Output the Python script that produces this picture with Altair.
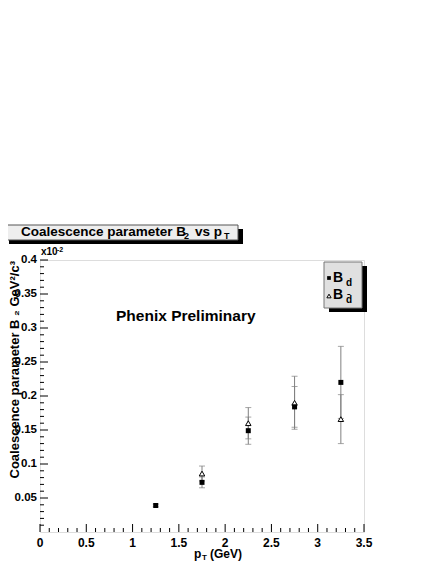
import altair as alt
import pandas as pd

# ---------------- data ----------------
bd_x = [1.25, 1.75, 2.25, 2.75, 3.25]
bd_val = [0.039, 0.073, 0.149, 0.184, 0.220]
bd_err = [0.002, 0.008, 0.020, 0.030, 0.053]

bdbar_x = [1.75, 2.25, 2.75, 3.25]
bdbar_val = [0.086, 0.160, 0.190, 0.166]
bdbar_err = [0.011, 0.023, 0.039, 0.036]

x_major = [0, 0.5, 1, 1.5, 2, 2.5, 3, 3.5]
x_minor = [round(i * 0.1, 2) for i in range(36) if i % 5 != 0]
y_major = [0.05, 0.1, 0.15, 0.2, 0.25, 0.3, 0.35, 0.4]
y_minor = [round(i * 0.01, 3) for i in range(1, 40) if i % 5 != 0]

W, H = 324, 272
FONT = "Liberation Sans"

bd = pd.DataFrame({"x": bd_x, "y": bd_val,
                   "lo": [v - e for v, e in zip(bd_val, bd_err)],
                   "hi": [v + e for v, e in zip(bd_val, bd_err)]})
bdbar = pd.DataFrame({"x": bdbar_x, "y": bdbar_val,
                      "lo": [v - e for v, e in zip(bdbar_val, bdbar_err)],
                      "hi": [v + e for v, e in zip(bdbar_val, bdbar_err)]})

xs = alt.Scale(domain=[0, 3.5], nice=False, zero=False)
ys = alt.Scale(domain=[0, 0.4], nice=False, zero=False)

dummy = pd.DataFrame({"a": [0]})


def X(f):
    return alt.X(f, scale=xs, axis=None)


def Y(f):
    return alt.Y(f, scale=ys, axis=None)


def text(t, x, y, size, align="left", baseline="middle", angle=0):
    return alt.Chart(dummy).mark_text(
        text=t, align=align, baseline=baseline, fontSize=size, fontWeight="bold",
        font=FONT, color="black", angle=angle
    ).encode(x=alt.value(x), y=alt.value(y))


def box(x0, x1, y0, y1, fill, stroke=None):
    kw = dict(fill=fill)
    if stroke:
        kw.update(stroke=stroke, strokeWidth=1)
    return alt.Chart(dummy).mark_rect(**kw).encode(
        x=alt.value(x0), x2=alt.value(x1), y=alt.value(y0), y2=alt.value(y1))


def errlayers(df):
    base = alt.Chart(df)
    bar = base.mark_rule(color="#808080", strokeWidth=1).encode(
        x=X("x:Q"), y=Y("lo:Q"), y2="hi:Q")
    cap_lo = base.mark_tick(orient="horizontal", size=6, thickness=1, color="#808080").encode(
        x=X("x:Q"), y=Y("lo:Q"))
    cap_hi = base.mark_tick(orient="horizontal", size=6, thickness=1, color="#808080").encode(
        x=X("x:Q"), y=Y("hi:Q"))
    return [bar, cap_lo, cap_hi]


# ticks drawn inward, ROOT style
xt_major = alt.Chart(pd.DataFrame({"x": x_major})).mark_rule(color="black").encode(
    x=X("x:Q"), y=alt.value(H), y2=alt.value(H - 8))
xt_minor = alt.Chart(pd.DataFrame({"x": x_minor})).mark_rule(color="black").encode(
    x=X("x:Q"), y=alt.value(H), y2=alt.value(H - 4))
yt_major = alt.Chart(pd.DataFrame({"y": y_major})).mark_rule(color="black").encode(
    y=Y("y:Q"), x=alt.value(0), x2=alt.value(8))
yt_minor = alt.Chart(pd.DataFrame({"y": y_minor})).mark_rule(color="black").encode(
    y=Y("y:Q"), x=alt.value(0), x2=alt.value(4))

# tick labels
x_labels = alt.Chart(pd.DataFrame({"x": x_major})).mark_text(
    align="center", baseline="middle", fontSize=12, fontWeight="bold", font=FONT, color="black"
).encode(x=X("x:Q"), y=alt.value(H + 11), text=alt.Text("x:Q", format="~g"))
y_labels = alt.Chart(pd.DataFrame({"y": y_major})).mark_text(
    align="right", baseline="middle", fontSize=11.5, fontWeight="bold", font=FONT, color="black"
).encode(y=Y("y:Q"), x=alt.value(-3), text=alt.Text("y:Q", format="~g"))

squares = alt.Chart(bd).mark_square(size=25, color="black", opacity=1).encode(
    x=X("x:Q"), y=Y("y:Q"))
triangles = alt.Chart(bdbar).mark_point(shape="triangle-up", filled=True, fill="white",
                                        stroke="black", strokeWidth=1, size=30, opacity=1).encode(
    x=X("x:Q"), y=Y("y:Q"))

# legend
leg_sq = alt.Chart(dummy).mark_square(size=14, color="black", opacity=1).encode(
    x=alt.value(289), y=alt.value(18))
leg_tri = alt.Chart(dummy).mark_point(shape="triangle-up", filled=True, fill="white",
                                      stroke="black", strokeWidth=1, size=18, opacity=1).encode(
    x=alt.value(289), y=alt.value(36))

layers = (
    [box(-31, 203, -31, -16, "black"), box(-36, 198, -35, -20, "#eeeeee", "#555555")]
    + errlayers(bdbar) + errlayers(bd)
    + [triangles, squares, xt_major, xt_minor, yt_major, yt_minor, x_labels, y_labels]
    + [box(289, 327, 6, 52, "black"), box(284, 322, 2, 48, "#e0e0e0", "#777777"),
       leg_sq, leg_tri,
       text("B", 293, 18, 14), text("d", 306, 23, 10),
       text("B", 293, 35, 14), text("d\u0304", 306, 40, 10)]
    + [text("Coalescence parameter B", -19, -28, 13.5), text("2", 144, -24, 9),
       text("vs p", 155, -28, 13.5), text("T", 184, -24, 9)]
    + [text("Phenix Preliminary", 76, 56, 15.5)]
    + [text("x10", 1, -5, 10, baseline="alphabetic"), text("-2", 17, -10, 7)]
    + [text("Coalescence parameter B \u2082 GeV\u00b2/c\u00b3", -25.5, 1, 13,
            align="right", angle=270)]
    + [text("p", 154, H + 22, 12), text("T", 162, H + 26, 8), text("(GeV)", 170, H + 22, 12)]
)

chart = alt.layer(*layers).properties(
    width=W, height=H,
    autosize=alt.AutoSizeParams(type="none"),
    padding={"left": 32, "top": 252, "right": 60, "bottom": 32},
).configure_view(stroke="black", strokeWidth=1).configure(background="white")

chart.save("out.html", embed_options={"renderer": "svg", "actions": False})
